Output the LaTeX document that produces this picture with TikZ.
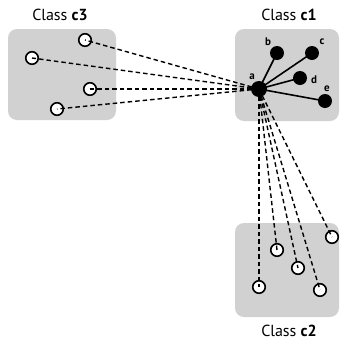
\documentclass[tikz,border=0pt]{standalone}
\usepackage{fontspec}
\setmainfont{PT Sans}
\begin{document}
\begin{tikzpicture}[x=1pt,y=-1pt,
  classbox/.style={fill=black!18,rounded corners=9pt},
  wnode/.style={circle,draw=black,fill=white,line width=1.6pt,minimum size=12.5pt,inner sep=0pt},
  bnode/.style={circle,fill=black,minimum size=14pt,inner sep=0pt},
  anode/.style={circle,fill=black,minimum size=16pt,inner sep=0pt},
  dline/.style={dash pattern=on 4.5pt off 3pt,line width=1.4pt},
  sline/.style={line width=1.6pt},
  lbl/.style={font=\fontsize{11}{12}\selectfont\bfseries,inner sep=0pt},
  title/.style={font=\fontsize{16}{18}\selectfont,inner sep=0pt}]
\useasboundingbox (0,0) rectangle (341,341);
% boxes
\fill[classbox] (8,29) rectangle (116,120);
\fill[classbox] (235,29) rectangle (339,121);
\fill[classbox] (235,223) rectangle (339,317);
% titles
\node[title] (t3) at (60,15) {Class \textbf{c3}};
\node[title] (t1) at (289,15) {Class \textbf{c1}};
\node[title] (t2) at (289,331) {Class \textbf{c2}};
% class c3 nodes
\node[wnode] (p1) at (85,40) {};
\node[wnode] (p2) at (32,58) {};
\node[wnode] (p3) at (90,89) {};
\node[wnode] (p4) at (57,109) {};
% class c2 nodes
\node[wnode] (q1) at (332,237) {};
\node[wnode] (q2) at (277,250) {};
\node[wnode] (q3) at (298,268) {};
\node[wnode] (q4) at (259,287) {};
\node[wnode] (q5) at (320,290) {};
% class c1 nodes
\node[anode] (a) at (259,89) {};
\node[bnode] (b) at (277,53) {};
\node[bnode] (c) at (312,53) {};
\node[bnode] (d) at (300,78) {};
\node[bnode] (e) at (325,101) {};
% dashed connections
\foreach \n in {p1,p2,p3,p4,q1,q2,q3,q4,q5}
  \draw[dline] (a.center) -- (\n.center);
% solid connections
\foreach \n in {b,c,d,e}
  \draw[sline] (a.center) -- (\n.center);
% labels
\node[lbl] (la) at (252,77) {a};
\node[lbl] (lb) at (268,42) {b};
\node[lbl] (lc) at (322,42) {c};
\node[lbl] (ld) at (314,80) {d};
\node[lbl] (le) at (327,89) {e};
\end{tikzpicture}
\end{document}
